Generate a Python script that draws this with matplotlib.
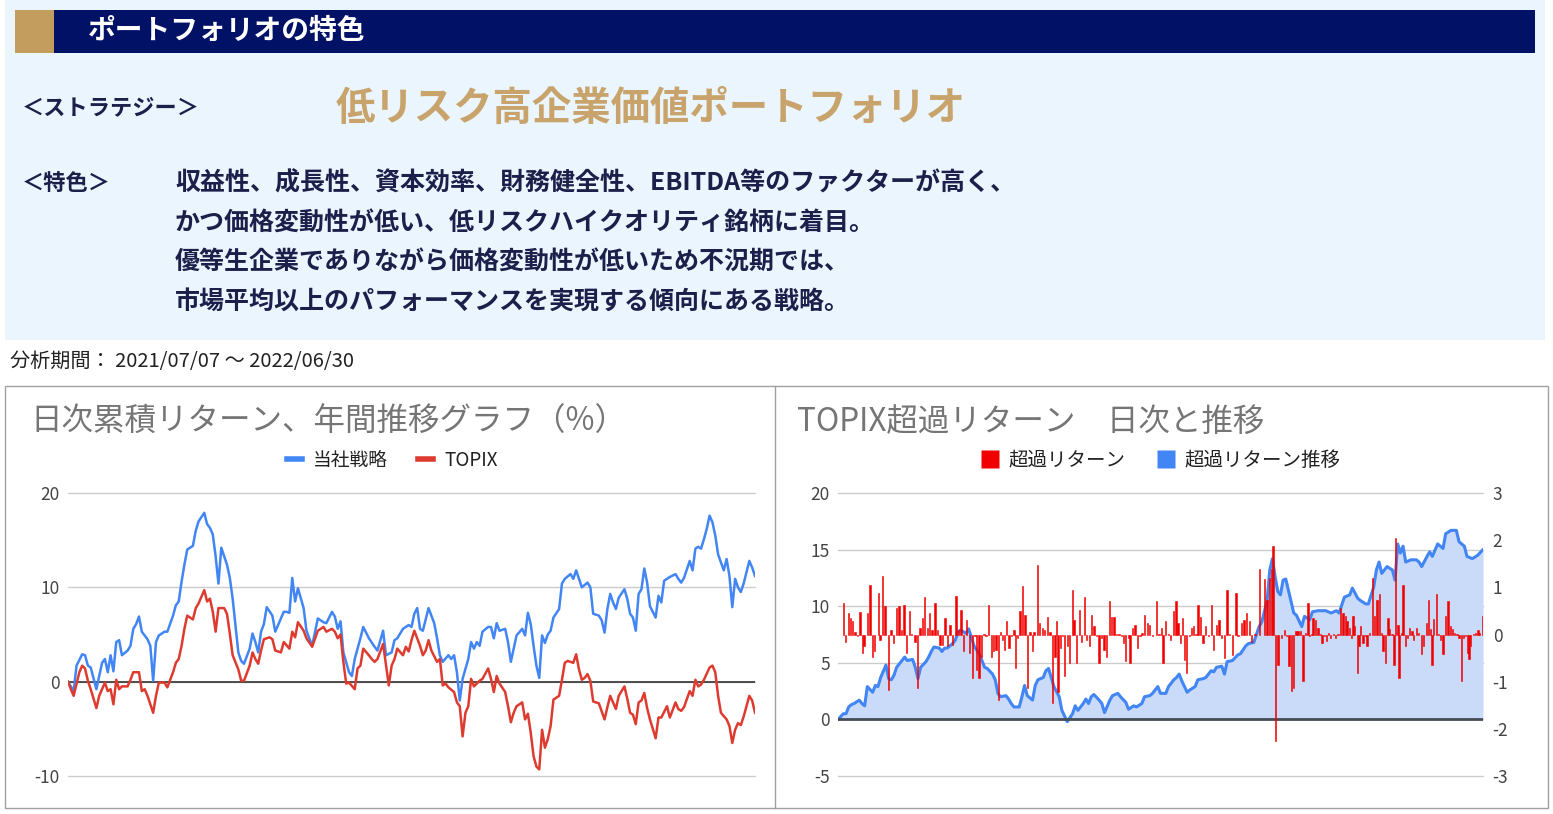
import matplotlib
matplotlib.use("Agg")
import matplotlib.pyplot as plt
from matplotlib.patches import Rectangle
from matplotlib.lines import Line2D

plt.rcParams['font.family'] = ['Noto Sans CJK JP', 'DejaVu Sans']
plt.rcParams['axes.unicode_minus'] = False

# ---- data (trading-day index 0..242, 2021/07/07 - 2022/06/30) ----
strat_day = [0, 2, 3, 5, 6, 7, 8, 10, 12, 13,
             14, 15, 16, 17, 18, 19, 21, 22, 23, 24,
             25, 26, 28, 29, 30, 31, 32, 34, 35, 37,
             38, 39, 40, 41, 42, 44, 45, 46, 48, 49,
             50, 51, 52, 53, 54, 55, 56, 57, 58, 59,
             60, 61, 62, 64, 65, 66, 67, 68, 69, 70,
             72, 73, 74, 76, 77, 78, 79, 80, 81, 83,
             84, 86, 88, 90, 91, 93, 94, 95, 96, 97,
             99, 100, 101, 103, 104, 106, 108, 109, 111, 112,
             114, 115, 116, 118, 120, 121, 122, 123, 124, 125,
             127, 128, 129, 130, 131, 132, 134, 135, 136, 137,
             138, 139, 141, 142, 143, 144, 145, 146, 148, 149,
             150, 151, 152, 154, 155, 156, 157, 158, 160, 161,
             162, 163, 164, 165, 166, 167, 168, 169, 170, 171,
             173, 174, 175, 177, 178, 179, 180, 181, 183, 184,
             185, 187, 188, 189, 190, 191, 192, 193, 194, 196,
             197, 198, 199, 200, 201, 202, 203, 204, 205, 207,
             208, 209, 210, 211, 212, 214, 215, 216, 217, 219,
             220, 221, 222, 223, 224, 225, 226, 227, 228, 229,
             231, 232, 233, 234, 235, 236, 237, 238, 240, 241,
             242]
strat_ret = [0, -1.0, 1.7, 2.9, 2.8, 1.7, 1.5, -0.8, 2.0, 2.4,
             1.0, 2.8, 1.1, 4.2, 4.4, 2.8, 3.3, 3.8, 5.6, 6.1,
             6.9, 5.3, 4.5, 3.8, 0.1, 4.2, 4.9, 5.3, 5.3, 7.0,
             8.1, 8.5, 10.6, 12.4, 14.0, 14.4, 16.0, 17.0, 17.9, 16.7,
             16.3, 15.6, 13.3, 10.4, 14.2, 13.3, 12.4, 11.0, 8.8, 6.0,
             3.1, 2.2, 1.9, 3.5, 5.1, 4.2, 3.1, 5.3, 6.1, 7.9,
             7.0, 5.3, 6.0, 7.4, 7.4, 7.3, 11.0, 8.5, 9.9, 7.8,
             5.4, 3.8, 6.7, 6.3, 6.2, 7.4, 6.9, 5.6, 6.4, 3.1,
             1.0, 0.6, 2.4, 4.6, 5.8, 4.6, 3.7, 3.3, 5.4, 2.8,
             3.1, 4.4, 4.6, 5.6, 6.0, 5.8, 7.2, 7.8, 5.6, 5.4,
             7.8, 7.0, 6.2, 4.6, 2.8, 2.1, 2.8, 2.4, 2.8, 1.0,
             -2.0, 0.3, 2.4, 4.2, 3.5, 4.2, 3.8, 5.3, 5.8, 5.8,
             4.6, 6.2, 5.4, 5.6, 4.2, 2.1, 3.5, 4.9, 5.6, 4.9,
             7.3, 6.1, 3.8, 1.7, 0.4, 4.9, 4.1, 5.0, 5.4, 6.8,
             7.7, 10.4, 10.9, 11.4, 10.9, 11.8, 10.9, 10.0, 10.5, 10.0,
             7.2, 7.0, 6.5, 5.2, 7.7, 9.3, 8.4, 7.7, 8.9, 9.8,
             8.8, 7.2, 6.8, 5.4, 9.3, 9.8, 12.0, 10.5, 8.0, 6.8,
             9.1, 8.4, 10.7, 10.9, 11.1, 11.4, 10.9, 10.5, 11.0, 12.8,
             11.8, 14.1, 14.3, 14.1, 15.1, 16.2, 17.6, 16.9, 15.5, 13.5,
             11.8, 13.0, 11.2, 7.9, 10.9, 10.0, 9.5, 10.4, 12.8, 12.1,
             11.2]

topix_day = [0, 1, 2, 4, 5, 6, 7, 8, 10, 11,
             13, 14, 15, 16, 17, 18, 19, 21, 22, 23,
             25, 26, 27, 28, 30, 31, 32, 34, 35, 37,
             38, 39, 40, 41, 42, 44, 45, 46, 48, 49,
             50, 51, 52, 53, 55, 56, 57, 58, 60, 61,
             62, 64, 65, 66, 67, 68, 69, 71, 72, 73,
             75, 76, 78, 79, 80, 81, 83, 84, 86, 88,
             90, 91, 93, 94, 95, 96, 97, 98, 99, 101,
             102, 103, 104, 106, 107, 108, 109, 111, 113, 114,
             115, 116, 118, 119, 120, 121, 122, 124, 125, 126,
             127, 128, 130, 131, 132, 133, 134, 136, 137, 138,
             139, 140, 141, 142, 143, 144, 145, 146, 148, 149,
             150, 151, 152, 154, 155, 156, 157, 158, 160, 161,
             162, 163, 164, 165, 166, 167, 168, 169, 170, 171,
             173, 174, 175, 176, 178, 179, 180, 181, 182, 183,
             184, 185, 187, 189, 190, 191, 192, 193, 194, 196,
             197, 198, 199, 200, 201, 202, 203, 204, 205, 207,
             208, 209, 210, 211, 212, 214, 215, 216, 217, 219,
             220, 221, 222, 223, 224, 226, 227, 228, 229, 230,
             232, 233, 234, 235, 236, 237, 238, 240, 241, 242]
topix_ret = [0, -0.8, -1.5, 1.0, 1.7, 1.4, 0.1, -0.8, -2.8, -1.5,
             -0.1, -1.0, -0.8, -2.4, 0.2, -0.8, -0.5, -0.5, 0.2, 1.0,
             1.0, -1.0, -0.8, -1.5, -3.3, -1.5, -0.1, -0.1, -0.6, 1.0,
             2.0, 2.4, 3.8, 5.6, 7.0, 6.6, 7.8, 8.3, 9.7, 8.5,
             8.8, 7.4, 5.3, 7.8, 7.8, 7.2, 5.1, 2.8, 1.3, 0.1,
             0.1, 1.7, 3.1, 2.4, 1.9, 3.3, 4.5, 4.7, 4.5, 3.3,
             3.1, 4.2, 3.5, 5.3, 4.7, 6.3, 5.4, 4.6, 3.7, 5.4,
             5.8, 5.3, 5.6, 5.3, 4.6, 5.0, 2.1, -0.2, -0.1, -0.8,
             1.4, 1.7, 3.5, 2.8, 2.4, 2.1, 2.4, 4.0, -0.4, 1.7,
             2.4, 3.5, 2.8, 3.7, 3.2, 4.4, 5.4, 3.8, 2.8, 3.3,
             4.4, 3.3, 2.1, 2.4, -0.4, -0.2, -0.6, -1.1, -2.2, -2.6,
             -5.8, -3.3, -2.6, 0.3, -0.5, -0.2, 0.1, 0.3, 1.4, 0.3,
             -1.1, 0.6, -0.2, -1.1, -2.6, -4.3, -3.3, -2.6, -2.2, -4.0,
             -3.4, -5.4, -7.9, -9.0, -9.3, -5.1, -7.0, -6.1, -4.7, -1.9,
             -1.5, 0.2, 2.0, 2.2, 2.0, 2.9, 1.3, 0.2, 0.4, 0.8,
             0.1, -2.1, -2.3, -4.0, -2.7, -1.5, -2.2, -2.9, -1.5, -0.5,
             -1.8, -3.3, -3.5, -4.5, -2.2, -2.0, -1.2, -2.8, -4.0, -6.0,
             -3.8, -3.8, -3.2, -2.6, -3.8, -2.2, -2.9, -3.1, -2.7, -1.0,
             -1.5, 0.2, -0.5, -0.3, 0.2, 1.5, 1.7, 1.0, -1.5, -3.3,
             -4.0, -4.7, -6.5, -5.1, -4.4, -4.6, -3.7, -1.5, -2.0, -3.3]

# cumulative excess return vs TOPIX (left axis)
ex_day = [0, 2, 3, 4, 5, 6, 8, 9, 10, 11,
          13, 14, 15, 16, 18, 19, 20, 21, 22, 24,
          25, 26, 28, 29, 30, 31, 33, 34, 35, 36,
          38, 39, 40, 41, 43, 44, 45, 46, 48, 49,
          50, 51, 53, 54, 55, 56, 58, 59, 60, 61,
          63, 64, 65, 66, 68, 69, 70, 71, 73, 74,
          75, 77, 78, 79, 81, 83, 84, 86, 88, 89,
          90, 92, 93, 94, 95, 96, 98, 99, 100, 102,
          103, 105, 106, 108, 109, 111, 112, 114, 115, 117,
          118, 120, 121, 123, 124, 126, 127, 128, 129, 131,
          132, 134, 135, 137, 138, 140, 141, 142, 144, 145,
          146, 148, 150, 151, 153, 154, 156, 158, 159, 161,
          162, 163, 164, 165, 166, 167, 168, 169, 171, 172,
          174, 175, 177, 178, 180, 181, 183, 185, 187, 188,
          190, 192, 193, 195, 196, 198, 199, 201, 202, 203,
          204, 206, 208, 209, 210, 211, 212, 213, 215, 217,
          218, 219, 221, 222, 223, 225, 226, 227, 228, 230,
          232, 233, 235, 236, 238, 240, 242]
ex_cum = [0, 0.5, 0.5, 1.1, 1.3, 1.4, 1.7, 1.4, 1.2, 2.9,
          2.4, 3.0, 2.9, 3.7, 4.8, 3.6, 3.5, 3.9, 4.6, 5.2,
          5.5, 5.2, 5.3, 4.6, 3.6, 4.6, 5.1, 5.5, 6.0, 6.4,
          6.3, 6.0, 6.3, 6.3, 6.7, 7.0, 7.7, 7.9, 7.6, 8.0,
          7.3, 6.5, 5.8, 5.2, 4.6, 4.5, 4.0, 3.5, 2.3, 2.0,
          2.1, 1.8, 1.4, 1.1, 1.1, 2.0, 3.0, 2.1, 1.7, 3.0,
          3.5, 3.7, 4.3, 4.5, 2.9, 2.0, 0.8, -0.2, 0.5, 1.2,
          0.8, 1.4, 1.8, 1.4, 2.0, 2.2, 1.7, 1.4, 0.6, 1.7,
          2.1, 2.3, 2.0, 1.5, 0.9, 1.2, 1.1, 1.4, 2.0, 2.1,
          2.3, 2.9, 2.3, 2.3, 2.9, 3.5, 3.7, 4.0, 3.4, 2.4,
          2.6, 2.9, 3.5, 3.6, 3.7, 4.3, 4.2, 4.6, 4.7, 4.0,
          5.1, 5.2, 5.7, 5.8, 6.5, 6.7, 6.8, 8.2, 8.6, 10.5,
          13.2, 14.2, 12.6, 11.3, 11.0, 12.3, 12.4, 11.4, 9.4, 9.2,
          8.2, 9.1, 8.8, 9.5, 9.6, 9.6, 9.6, 9.4, 9.6, 9.4,
          10.8, 11.0, 11.6, 10.7, 10.5, 10.2, 10.2, 11.7, 13.2, 13.9,
          12.9, 13.5, 13.2, 12.3, 15.5, 14.7, 15.3, 13.9, 14.1, 14.1,
          13.9, 13.5, 14.4, 14.8, 14.4, 15.5, 15.3, 15.1, 16.4, 16.7,
          16.7, 15.7, 15.3, 14.4, 14.2, 14.5, 15.0]

# daily excess return (right axis)
bar_day = [2.0, 2.9, 3.9, 4.8, 5.5, 6.4, 7.3, 8.3, 9.3, 9.8,
           11.0, 12.0, 12.9, 13.6, 15.1, 15.8, 16.8, 17.6, 18.9, 19.9,
           20.8, 22.0, 22.9, 23.9, 24.8, 25.8, 26.8, 27.6, 28.9, 29.8,
           30.8, 31.8, 32.4, 33.5, 34.3, 35.3, 36.4, 37.3, 38.3, 39.1,
           40.1, 41.0, 42.0, 43.0, 44.3, 45.1, 46.1, 47.0, 48.3, 49.3,
           50.5, 51.4, 52.0, 52.9, 53.9, 54.8, 55.5, 56.4, 57.6, 58.3,
           59.3, 60.1, 61.0, 61.8, 62.4, 63.3, 64.1, 65.1, 66.0, 66.6,
           67.4, 68.3, 69.3, 70.1, 71.0, 72.0, 72.9, 73.6, 74.8, 75.5,
           76.8, 77.6, 78.5, 79.5, 80.5, 81.4, 82.0, 82.6, 83.5, 84.3,
           85.1, 86.0, 86.8, 87.9, 88.6, 89.5, 90.5, 91.4, 92.4, 93.3,
           94.3, 95.1, 96.0, 97.0, 97.9, 98.9, 99.8, 100.8, 101.8, 102.6,
           103.5, 104.5, 105.4, 106.4, 107.0, 107.9, 108.9, 109.5, 110.5, 111.4,
           112.3, 113.3, 114.1, 115.1, 116.0, 116.8, 118.0, 119.5, 120.4, 121.4,
           122.0, 123.0, 123.9, 124.8, 126.0, 126.8, 127.6, 128.5, 129.3, 130.1,
           130.8, 131.8, 132.6, 133.5, 134.3, 135.1, 136.0, 137.0, 137.9, 138.9,
           140.1, 141.0, 142.0, 142.9, 143.9, 145.1, 146.0, 147.0, 148.0, 149.3,
           150.1, 151.4, 152.3, 153.3, 154.3, 155.1, 156.4,
           158.2, 160.1, 161.0, 161.8, 162.6, 163.2, 164.2, 165.1, 166.4, 167.6,
           168.2, 169.2, 170.1, 171.0, 171.8, 172.6, 173.5, 174.5, 175.4, 176.4,
           177.0, 177.6, 178.2, 179.2, 180.1, 181.0, 181.6, 182.6, 183.2, 184.1,
           184.9, 185.8, 186.6, 187.6, 188.6, 189.5, 190.4, 191.0, 191.8, 192.6,
           193.2, 193.9, 194.8, 195.5, 196.1, 197.0, 198.0, 198.5, 199.5, 200.5,
           201.4, 202.2, 203.2, 203.9, 204.5, 205.5, 206.4, 207.0, 207.9, 208.6,
           209.2, 210.1, 210.5, 211.4, 212.0, 212.9, 213.6, 214.5, 215.4, 216.0,
           217.0, 217.9, 218.9, 219.8, 220.8, 221.6, 222.2, 222.9, 223.5, 224.5,
           225.4, 226.1, 227.0, 227.9, 228.9, 229.8, 230.5, 231.4, 232.2, 233.0,
           233.9, 234.8, 235.5, 236.1, 236.8, 237.4, 238.5, 239.2, 240.1, 240.8,
           241.8]
bar_ret = [0.66, -0.15, 0.45, 0.35, 0.28, 0.06, -0.04, 0.47, -0.40, -0.25,
           0.45, 1.05, -0.47, -0.36, 0.88, -0.11, 1.23, 0.60, -1.17, 0.10,
           -0.18, 0.56, 0.60, 0.10, 0.63, -0.40, 0.49, 0.02, -0.15, -1.14,
           0.13, 0.35, 0.79, 0.13, 0.45, 0.10, 0.66, 0.10, -0.22, -0.22,
           0.35, -0.25, 0.20, -0.22, 0.82, 0.10, 0.52, -0.36, 0.31, -0.40,
           -0.92, -0.04, -0.75, -0.92, -0.47, 0.02, -0.04, 0.63, -0.47, -0.36,
           -0.32, -1.38, 0.06, -0.11, -0.32, 0.28, -0.29, -0.04, 0.10, -0.71,
           -0.08, 0.49, 1.02, 0.42, -1.14, 0.06, -0.36, 0.06, 1.48, 0.24,
           0.13, 0.10, 0.37, 0.06, -1.45, -0.47, 0.28, -1.21, -0.29, -0.04,
           -0.89, -0.25, -0.61, 0.95, 0.31, -0.61, 0.52, -0.15, 0.80, -0.11,
           -0.25, 0.42, 0.17, -0.04, -0.61, -0.08, -0.32, -0.47, 0.70, 0.38,
           0.38, 0.02, 0.02, -0.04, -0.18, -0.57, -0.08, -0.61, 0.13, 0.20,
           -0.29, -0.04, 0.03, 0.42, 0.24, 0.21, -0.04, 0.70, 0.02, 0.13,
           -0.61, 0.28, 0.02, -0.11, 0.49, 0.70, 0.24, -0.18, 0.35, -0.54,
           -0.82, -0.04, 0.13, 0.17, 0.02, 0.63, 0.38, -0.18, 0.17, -0.04,
           0.63, -0.32, 0.20, 0.31, -0.08, -0.50, 0.95, 0.02, -0.43, 0.88,
           -0.04, 0.24, 0.31, 0.45, 0.28, -0.15, 0.02,
           1.38, 1.17, 0.74, 1.20, 1.38, 1.87, -2.25, -0.64, -0.07, 0.10,
           -0.04, -0.67, -1.20, -1.13, 0.07, 0.07, 0.07, -0.99, 0.03, 0.67,
           -0.04, 0.02, 0.35, 0.31, 0.14, 0.02, -0.18, -0.04, -0.14, 0.04,
           -0.07, 0.02, -0.07, 0.02, 0.56, 0.46, 0.39, 0.28, 0.14, -0.07,
           0.39, 0.18, -0.81, -0.25, 0.18, -0.18, -0.04, -0.25, 0.03, 1.20,
           0.39, 0.74, 0.85, 0.04, -0.35, -0.60, 0.35, 0.11, 0.02, -0.64,
           2.05, 0.21, -0.92, 0.04, 1.06, -0.25, -0.07, 0.14, 0.07, -0.11,
           0.14, 0.04, -0.42, -0.25, 0.25, 0.74, 0.11, -0.64, 0.32, 0.85,
           0.02, -0.11, -0.42, 0.39, 0.70, 0.18, 0.11, 0.04, 0.02, -0.07,
           -0.99, -0.07, -0.04, -0.39, -0.53, -0.25, 0.02, 0.04, 0.10, 0.04,
           0.39]

feature_lines = [
    "収益性、成長性、資本効率、財務健全性、EBITDA等のファクターが高く、",
    "かつ価格変動性が低い、低リスクハイクオリティ銘柄に着目。",
    "優等生企業でありながら価格変動性が低いため不況期では、",
    "市場平均以上のパフォーマンスを実現する傾向にある戦略。",
]

NAVY = '#001166'
GOLD = '#C29D5E'
TEXT_NAVY = '#1c1f4a'
BLUE = '#4285F4'
RED = '#DE3B30'
BAR_RED = '#F00000'

W, H = 1553, 814
fig = plt.figure(figsize=(W / 100, H / 100), dpi=100)


def fx(px):
    return px / W


def fy(py):
    return 1 - py / H


def box(x0, y0, x1, y1, **kw):
    fig.add_artist(Rectangle((fx(x0), fy(y1)), (x1 - x0) / W, (y1 - y0) / H,
                             transform=fig.transFigure, zorder=-5, **kw))


# ---- header panel ----
box(5, 0, 1545, 340, facecolor='#EAF5FD', edgecolor='none')
box(15, 10, 1535, 53, facecolor=NAVY, edgecolor='none')
box(15, 10, 54, 53, facecolor=GOLD, edgecolor='none')
fig.text(fx(88), fy(31), "ポートフォリオの特色", color='white', fontsize=20,
         fontweight='bold', ha='left', va='center')
fig.text(fx(22), fy(108), "＜ストラテジー＞", color=TEXT_NAVY, fontsize=16,
         fontweight='bold', ha='left', va='center')
fig.text(fx(336), fy(108), "低リスク高企業価値ポートフォリオ", color='#C8A46C',
         fontsize=28.4, fontweight='bold', ha='left', va='center')
fig.text(fx(22), fy(183), "＜特色＞", color=TEXT_NAVY, fontsize=16,
         fontweight='bold', ha='left', va='center')
for i, line in enumerate(feature_lines):
    fig.text(fx(175), fy(183 + i * 39.5), line, color=TEXT_NAVY, fontsize=18,
             fontweight='bold', ha='left', va='center')

fig.text(fx(10), fy(361), "分析期間： 2021/07/07 ～ 2022/06/30", color='#222222',
         fontsize=14.5, ha='left', va='center')

# ---- chart frame ----
box(5, 386, 1548, 808, facecolor='white', edgecolor='#a0a0a0', linewidth=1)
fig.add_artist(Line2D([fx(775), fx(775)], [fy(386), fy(808)], color='#a0a0a0',
                      lw=1, transform=fig.transFigure, zorder=-4))

fig.text(fx(30), fy(422), "日次累積リターン、年間推移グラフ（%）", color='#757575',
         fontsize=22.7, ha='left', va='center')
fig.text(fx(797), fy(422), "TOPIX超過リターン　日次と推移", color='#757575',
         fontsize=22.7, ha='left', va='center')

# ---- left chart ----
ax1 = fig.add_axes([fx(68), fy(776), (755 - 68) / W, (776 - 493) / H])
ax1.plot(strat_day, strat_ret, color=BLUE, lw=1.8, label="当社戦略")
ax1.plot(topix_day, topix_ret, color=RED, lw=1.8, label="TOPIX")
ax1.axhline(0, color='#333333', lw=1.2, zorder=1)
ax1.set_xlim(0, 242)
ax1.set_ylim(-10, 20)
ax1.set_yticks([-10, 0, 10, 20])
ax1.set_xticks([])
ax1.grid(axis='y', color='#cccccc', lw=1)
ax1.set_axisbelow(True)
for s in ax1.spines.values():
    s.set_visible(False)
ax1.tick_params(axis='y', length=0, labelsize=12.5, labelcolor='#444444', pad=6)
ax1.patch.set_alpha(0)

leg1 = [Line2D([0], [0], color=BLUE, lw=4), Line2D([0], [0], color=RED, lw=4)]
fig.legend(leg1, ["当社戦略", "TOPIX"], loc='center', ncol=2,
           bbox_to_anchor=(fx(392), fy(460)), frameon=False, fontsize=13.5,
           handlelength=0.8, handletextpad=0.6, columnspacing=1.6,
           labelcolor='#222222')

# ---- right chart ----
ax2 = fig.add_axes([fx(838), fy(776), (1483 - 838) / W, (776 - 493) / H])
ax2.fill_between(ex_day, ex_cum, 0, color='#C9DBF8', lw=0)
ax2.plot(ex_day, ex_cum, color=BLUE, lw=2.2)
ax2.axhline(0, color='#444c56', lw=2, zorder=3)
ax2.set_xlim(0, 242)
ax2.set_ylim(-5, 20)
ax2.set_yticks([-5, 0, 5, 10, 15, 20])
ax2.set_xticks([])
ax2.grid(axis='y', color='#cccccc', lw=1)
ax2.set_axisbelow(True)
for s in ax2.spines.values():
    s.set_visible(False)
ax2.tick_params(axis='y', length=0, labelsize=12.5, labelcolor='#444444', pad=6)
ax2.patch.set_alpha(0)

for ax in (ax1, ax2):
    for gl in ax.get_ygridlines():
        gl.set_clip_on(False)

ax3 = ax2.twinx()
ax3.bar(bar_day, bar_ret, width=0.5, color=BAR_RED, edgecolor=BAR_RED, lw=0.4)
ax3.set_ylim(-3, 3)
ax3.set_yticks([-3, -2, -1, 0, 1, 2, 3])
for s in ax3.spines.values():
    s.set_visible(False)
ax3.tick_params(axis='y', length=0, labelsize=12.5, labelcolor='#444444', pad=7)
ax3.patch.set_alpha(0)

leg2 = [Line2D([0], [0], marker='s', color='none', markerfacecolor=BAR_RED,
               markeredgecolor='none', markersize=13),
        Line2D([0], [0], marker='s', color='none', markerfacecolor=BLUE,
               markeredgecolor='none', markersize=13)]
fig.legend(leg2, ["超過リターン", "超過リターン推移"], loc='center', ncol=2,
           bbox_to_anchor=(fx(1161), fy(460)), frameon=False, fontsize=14,
           handlelength=0.9, handletextpad=0.5, columnspacing=1.6,
           labelcolor='#222222')

fig.savefig("out.png", dpi=100)
